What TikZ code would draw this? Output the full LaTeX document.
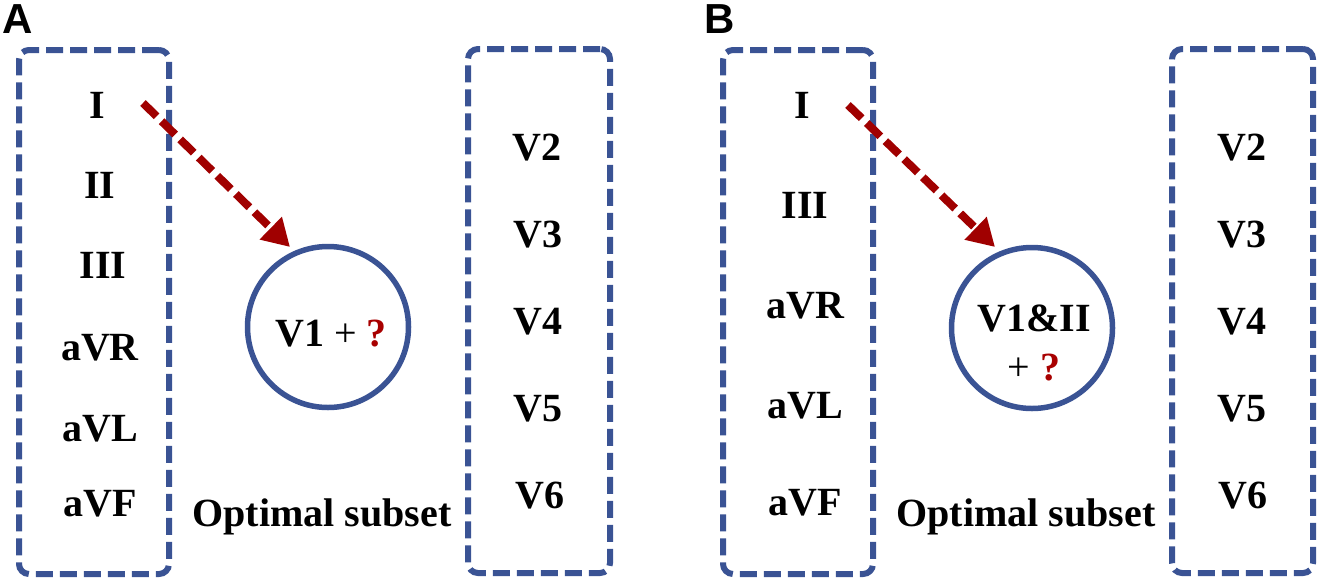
\documentclass[tikz,border=0pt]{standalone}
\usepackage{fontspec}
\setmainfont{Liberation Serif}
\newfontfamily\labfont{Liberation Sans}
\usetikzlibrary{arrows.meta}
\definecolor{boxblue}{HTML}{3A5394}
\definecolor{arrred}{HTML}{A00000}
\definecolor{qred}{HTML}{A80000}
\begin{document}
\begin{tikzpicture}[x=1pt,y=-1pt,
  lbl/.style={font=\fontsize{40}{44}\selectfont\bfseries, inner sep=0pt, text height=26.5pt, text depth=0pt, anchor=center},
  panel/.style={font=\labfont\fontsize{42}{46}\selectfont\bfseries, inner sep=0pt, text height=30pt, text depth=0pt, anchor=center},
  dbox/.style={draw=boxblue, line width=6pt, dash pattern=on 17pt off 7pt, rounded corners=10pt, inner sep=0pt, minimum height=524pt},
  ring/.style={circle, draw=boxblue, line width=5.5pt, minimum size=161pt, inner sep=0pt},
  dasharrow/.style={draw=arrred, line width=8pt, dash pattern=on 19pt off 7pt, -{Triangle[length=27pt,width=30pt]}},
  qm/.style={text=qred}
]
\useasboundingbox (0,0) rectangle (1319,582);
% ---------- Panel A ----------
\node[panel] (labA) at (18,18) {A};
\node[dbox, minimum width=150pt] (boxAL) at (94,312) {};
\node[dbox, minimum width=142pt] (boxAR) at (539,311) {};
\node[ring] (cA) at (328,327) {};
\node[lbl] (AI) at (97,105) {I};
\node[lbl] (AII) at (100,185) {II};
\node[lbl] (AIII) at (103,265) {III};
\node[lbl] (AaVR) at (100,347) {aVR};
\node[lbl] (AaVL) at (100,428) {aVL};
\node[lbl] (AaVF) at (100,503) {aVF};
\node[lbl] (AV2) at (537,147) {V2};
\node[lbl] (AV3) at (538,234) {V3};
\node[lbl] (AV4) at (538,321) {V4};
\node[lbl] (AV5) at (538,408) {V5};
\node[lbl] (AV6) at (540,495) {V6};
\node[lbl] (Ain) at (331,333) {V1 {\mdseries +} \textcolor{qred}{?}};
\node[lbl] (Aopt) at (322,513) {Optimal subset};
\coordinate (aAs) at (143,103);
\coordinate (aAe) at (290,247);
\draw[dasharrow] (aAs) -- (aAe);
% ---------- Panel B ----------
\node[panel] (labB) at (720,18) {B};
\node[dbox, minimum width=150pt] (boxBL) at (798,312) {};
\node[dbox, minimum width=141pt] (boxBR) at (1242.5,311) {};
\node[ring] (cB) at (1032,328) {};
\node[lbl] (BI) at (802,105) {I};
\node[lbl] (BIII) at (805,205) {III};
\node[lbl] (BaVR) at (805,305) {aVR};
\node[lbl] (BaVL) at (805,405) {aVL};
\node[lbl] (BaVF) at (805,502) {aVF};
\node[lbl] (BV2) at (1242,147) {V2};
\node[lbl] (BV3) at (1242,234) {V3};
\node[lbl] (BV4) at (1242,321) {V4};
\node[lbl] (BV5) at (1242,408) {V5};
\node[lbl] (BV6) at (1243,495) {V6};
\node[lbl] (Bin1) at (1034,318) {V1\&II};
\node[lbl] (Bin2) at (1034,367) {{\mdseries +} \textcolor{qred}{?}};
\node[lbl] (Bopt) at (1026,513) {Optimal subset};
\coordinate (aBs) at (848,105);
\coordinate (aBe) at (995,247);
\draw[dasharrow] (aBs) -- (aBe);
\end{tikzpicture}
\end{document}
